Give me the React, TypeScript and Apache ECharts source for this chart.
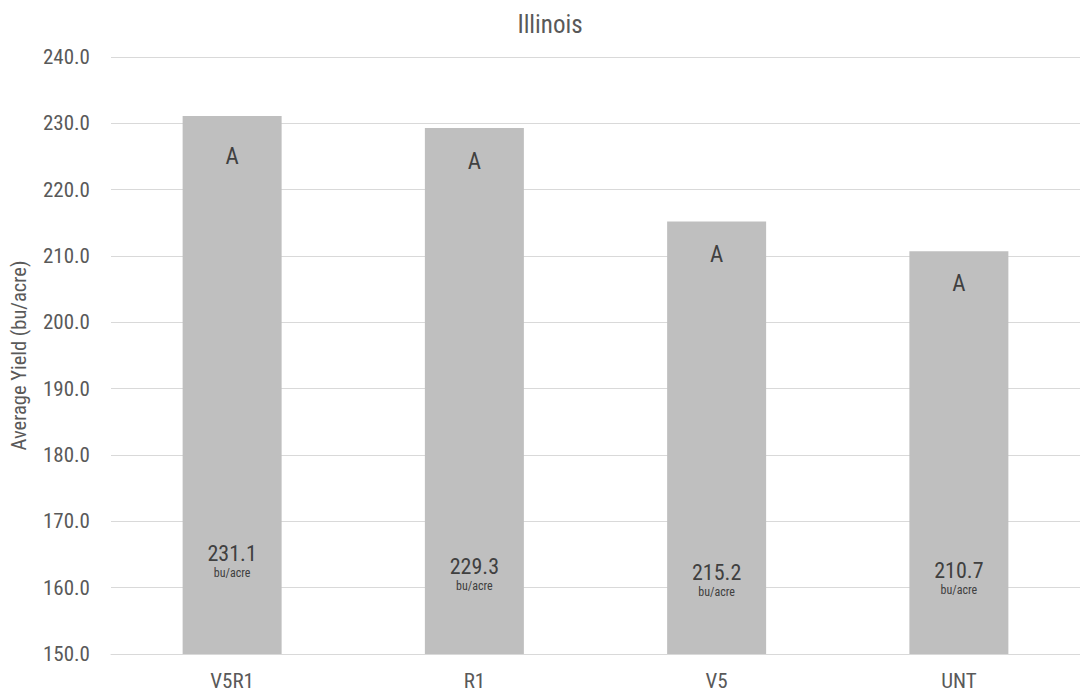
import React, { useEffect, useRef } from "react";
import * as echarts from "echarts";

const categories = ["V5R1", "R1", "V5", "UNT"];
const yields = [231.1, 229.3, 215.2, 210.7];
const letters = ["A", "A", "A", "A"];
const unitText = "bu/acre";
const yTicks = { min: 150, max: 240, interval: 10 };

// label layout (pixel distances inside bars)
const letterDist = [29, 22, 21, 21];
const valueDist = [74, 61, 55, 57];

const FONT = "'Liberation Sans Narrow', 'Roboto Condensed', 'DejaVu Sans Condensed', Roboto, sans-serif";

export default function App() {
  const ref = useRef<HTMLDivElement>(null);
  useEffect(() => {
    if (!ref.current) return;
    const chart = echarts.init(ref.current, undefined, { renderer: "svg" });
    chart.setOption({
      animation: false,
      backgroundColor: "#ffffff",
      textStyle: { fontFamily: FONT },
      title: {
        text: "Illinois",
        left: 545,
        top: 7,
        textAlign: "center",
        textStyle: { fontFamily: FONT, fontSize: 25, fontWeight: "normal", color: "#595959" },
      },
      grid: { left: 108.5, top: 57, width: 980, bottom: 42, containLabel: false },
      xAxis: {
        type: "category",
        data: categories,
        axisLine: { show: true, lineStyle: { color: "#d9d9d9" } },
        axisTick: { show: false },
        axisLabel: { fontFamily: FONT, fontSize: 21, color: "#595959", margin: 16 },
      },
      yAxis: {
        type: "value",
        min: yTicks.min,
        max: yTicks.max,
        interval: yTicks.interval,
        name: "Average Yield (bu/acre)",
        nameLocation: "middle",
        nameGap: 82,
        nameTextStyle: { fontFamily: FONT, fontSize: 20.5, color: "#595959" },
        axisLine: { show: false },
        axisTick: { show: false },
        splitLine: { lineStyle: { color: "#d9d9d9", width: 1 } },
        axisLabel: {
          fontFamily: FONT,
          fontSize: 21,
          color: "#595959",
          margin: 21,
          formatter: (v: number) => v.toFixed(1),
        },
      },
      series: [
        {
          type: "bar",
          barWidth: 99,
          itemStyle: { color: "#bfbfbf" },
          data: yields.map((v, i) => ({
            value: v,
            label: {
              show: true,
              position: "insideBottom",
              distance: valueDist[i],
              formatter: `{v|${v.toFixed(1)}}\n{u|${unitText}}`,
              rich: {
                v: { fontFamily: FONT, fontSize: 22, lineHeight: 26, color: "#404040", align: "center" },
                u: { fontFamily: FONT, fontSize: 12, lineHeight: 14, color: "#404040", align: "center" },
              },
            },
          })),
          z: 2,
        },
        {
          type: "bar",
          barWidth: 99,
          barGap: "-100%",
          itemStyle: { color: "transparent" },
          silent: true,
          data: yields.map((v, i) => ({
            value: v,
            label: {
              show: true,
              position: "insideTop",
              distance: letterDist[i],
              formatter: letters[i],
              fontFamily: FONT,
              fontSize: 23,
              color: "#404040",
            },
          })),
          z: 3,
        },
      ],
    });
    return () => chart.dispose();
  }, []);
  return <div ref={ref} style={{ width: 1080, height: 696, position: "absolute", left: 0, top: 0 }} />;
}
